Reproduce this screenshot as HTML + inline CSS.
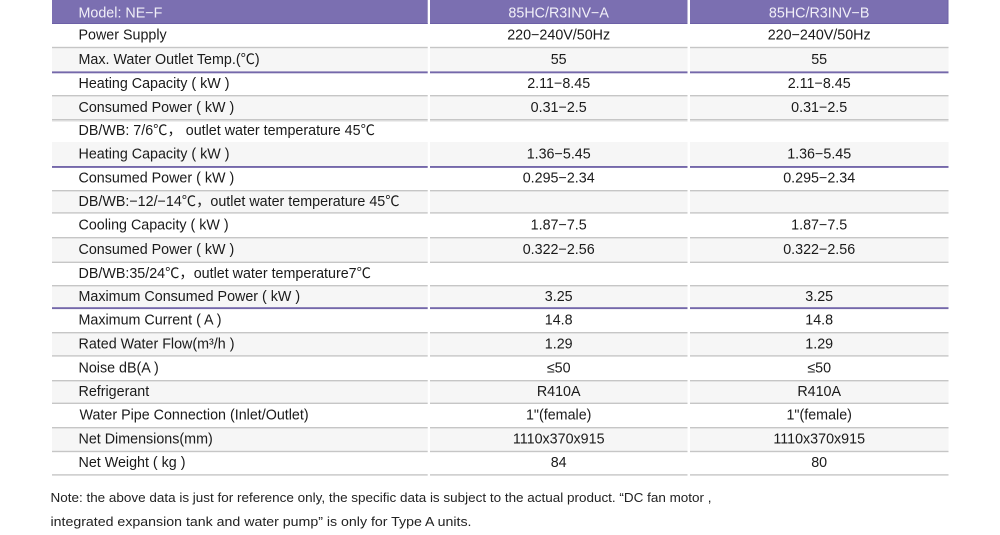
<!DOCTYPE html>
<html>
<head>
<meta charset="utf-8">
<style>
  html, body { margin: 0; padding: 0; background: #ffffff; }
  body { width: 1000px; height: 535px; overflow: hidden; }
  svg { display: block; }
  text { font-family: "Liberation Sans", "Noto Sans CJK SC", sans-serif; }
</style>
</head>
<body>
<svg width="1000" height="535" viewBox="0 0 1000 535" xmlns="http://www.w3.org/2000/svg">
  <rect x="0" y="0" width="1000" height="535" fill="#ffffff"/>

  <!-- Header -->
  <g fill="#7b6fb1">
    <rect x="52" y="0" width="375.7" height="24"/>
    <rect x="430" y="0" width="257.5" height="24"/>
    <rect x="690" y="0" width="258.5" height="24"/>
  </g>
  <g fill="#6c60a6">
    <rect x="52" y="23" width="375.7" height="1"/>
    <rect x="430" y="23" width="257.5" height="1"/>
    <rect x="690" y="23" width="258.5" height="1"/>
    <rect x="947.5" y="0" width="1" height="24"/>
  </g>

  <!-- Gray row backgrounds -->
  <g fill="#f6f6f6">
    <rect x="52" y="47.3" width="375.7" height="24.7"/><rect x="430" y="47.3" width="257.5" height="24.7"/><rect x="690" y="47.3" width="258.5" height="24.7"/>
    <rect x="52" y="95.5" width="375.7" height="24.5"/><rect x="430" y="95.5" width="257.5" height="24.5"/><rect x="690" y="95.5" width="258.5" height="24.5"/>
    <rect x="52" y="142" width="375.7" height="24.7"/><rect x="430" y="142" width="257.5" height="24.7"/><rect x="690" y="142" width="258.5" height="24.7"/>
    <rect x="52" y="190.5" width="375.7" height="22.3"/><rect x="430" y="190.5" width="257.5" height="22.3"/><rect x="690" y="190.5" width="258.5" height="22.3"/>
    <rect x="52" y="237.5" width="375.7" height="24.5"/><rect x="430" y="237.5" width="257.5" height="24.5"/><rect x="690" y="237.5" width="258.5" height="24.5"/>
    <rect x="52" y="285.5" width="375.7" height="22.2"/><rect x="430" y="285.5" width="257.5" height="22.2"/><rect x="690" y="285.5" width="258.5" height="22.2"/>
    <rect x="52" y="332.5" width="375.7" height="23.2"/><rect x="430" y="332.5" width="257.5" height="23.2"/><rect x="690" y="332.5" width="258.5" height="23.2"/>
    <rect x="52" y="380.5" width="375.7" height="22.5"/><rect x="430" y="380.5" width="257.5" height="22.5"/><rect x="690" y="380.5" width="258.5" height="22.5"/>
    <rect x="52" y="427.5" width="375.7" height="23.8"/><rect x="430" y="427.5" width="257.5" height="23.8"/><rect x="690" y="427.5" width="258.5" height="23.8"/>
  </g>

  <!-- Gray separator lines -->
  <g fill="#c6c6c6">
    <rect x="52" y="46.8" width="375.7" height="1.4"/><rect x="430" y="46.8" width="257.5" height="1.4"/><rect x="690" y="46.8" width="258.5" height="1.4"/>
    <rect x="52" y="95" width="375.7" height="1.4"/><rect x="430" y="95" width="257.5" height="1.4"/><rect x="690" y="95" width="258.5" height="1.4"/>
    <rect x="52" y="119" width="375.7" height="1.4"/><rect x="430" y="119" width="257.5" height="1.4"/><rect x="690" y="119" width="258.5" height="1.4"/>
    <rect x="52" y="190" width="375.7" height="1.4"/><rect x="430" y="190" width="257.5" height="1.4"/><rect x="690" y="190" width="258.5" height="1.4"/>
    <rect x="52" y="212.2" width="375.7" height="1.4"/><rect x="430" y="212.2" width="257.5" height="1.4"/><rect x="690" y="212.2" width="258.5" height="1.4"/>
    <rect x="52" y="237" width="375.7" height="1.4"/><rect x="430" y="237" width="257.5" height="1.4"/><rect x="690" y="237" width="258.5" height="1.4"/>
    <rect x="52" y="261.6" width="375.7" height="1.4"/><rect x="430" y="261.6" width="257.5" height="1.4"/><rect x="690" y="261.6" width="258.5" height="1.4"/>
    <rect x="52" y="285" width="375.7" height="1.4"/><rect x="430" y="285" width="257.5" height="1.4"/><rect x="690" y="285" width="258.5" height="1.4"/>
    <rect x="52" y="332" width="375.7" height="1.4"/><rect x="430" y="332" width="257.5" height="1.4"/><rect x="690" y="332" width="258.5" height="1.4"/>
    <rect x="52" y="355.2" width="375.7" height="1.4"/><rect x="430" y="355.2" width="257.5" height="1.4"/><rect x="690" y="355.2" width="258.5" height="1.4"/>
    <rect x="52" y="380" width="375.7" height="1.4"/><rect x="430" y="380" width="257.5" height="1.4"/><rect x="690" y="380" width="258.5" height="1.4"/>
    <rect x="52" y="402.6" width="375.7" height="1.4"/><rect x="430" y="402.6" width="257.5" height="1.4"/><rect x="690" y="402.6" width="258.5" height="1.4"/>
    <rect x="52" y="427" width="375.7" height="1.4"/><rect x="430" y="427" width="257.5" height="1.4"/><rect x="690" y="427" width="258.5" height="1.4"/>
    <rect x="52" y="450.8" width="375.7" height="1.4"/><rect x="430" y="450.8" width="257.5" height="1.4"/><rect x="690" y="450.8" width="258.5" height="1.4"/>
    <rect x="52" y="474.2" width="375.7" height="1.4"/><rect x="430" y="474.2" width="257.5" height="1.4"/><rect x="690" y="474.2" width="258.5" height="1.4"/>
  </g>
  <g fill="#e2e2e2">
    <rect x="52" y="120.6" width="375.7" height="1"/><rect x="430" y="120.6" width="257.5" height="1"/><rect x="690" y="120.6" width="258.5" height="1"/>
  </g>

  <!-- Purple separator lines -->
  <g fill="#7468aa">
    <rect x="52" y="71.4" width="375.7" height="1.9"/><rect x="430" y="71.4" width="257.5" height="1.9"/><rect x="690" y="71.4" width="258.5" height="1.9"/>
    <rect x="52" y="166" width="375.7" height="1.9"/><rect x="430" y="166" width="257.5" height="1.9"/><rect x="690" y="166" width="258.5" height="1.9"/>
    <rect x="52" y="307.2" width="375.7" height="1.9"/><rect x="430" y="307.2" width="257.5" height="1.9"/><rect x="690" y="307.2" width="258.5" height="1.9"/>
  </g>

  <!-- Header text -->
  <g font-size="14.3" fill="#f1eff8">
    <text x="78.5" y="17.4">Model: NE−F</text>
    <text x="558.7" y="17.4" text-anchor="middle">85HC/R3INV−A</text>
    <text x="819.2" y="17.4" text-anchor="middle">85HC/R3INV−B</text>
  </g>

  <!-- Labels -->
  <g font-size="14.3" fill="#1a1a1a">
    <text x="78.5" y="39.6">Power Supply</text>
    <text x="78.5" y="63.8">Max. Water Outlet Temp.(℃)</text>
    <text x="78.5" y="87.9">Heating Capacity ( kW )</text>
    <text x="78.5" y="111.9">Consumed Power ( kW )</text>
    <text x="78.5" y="135.2">DB/WB: 7/6℃，  outlet water temperature 45℃</text>
    <text x="78.5" y="158.5">Heating Capacity ( kW )</text>
    <text x="78.5" y="182.7">Consumed Power ( kW )</text>
    <text x="78.5" y="205.8">DB/WB:−12/−14℃，outlet water temperature 45℃</text>
    <text x="78.5" y="229.3">Cooling Capacity ( kW )</text>
    <text x="78.5" y="253.9">Consumed Power ( kW )</text>
    <text x="78.5" y="277.9">DB/WB:35/24℃，outlet water temperature7℃</text>
    <text x="78.5" y="300.8">Maximum Consumed Power ( kW )</text>
    <text x="78.5" y="324.3">Maximum Current ( A )</text>
    <text x="78.5" y="348.3">Rated Water Flow(m³/h )</text>
    <text x="78.5" y="372.3">Noise dB(A )</text>
    <text x="78.5" y="395.9">Refrigerant</text>
    <text x="79.5" y="419.4">Water Pipe Connection (Inlet/Outlet)</text>
    <text x="78.5" y="443.6">Net Dimensions(mm)</text>
    <text x="78.5" y="467.2">Net Weight  ( kg )</text>
  </g>

  <!-- Column A values -->
  <g font-size="14.3" fill="#1a1a1a" text-anchor="middle">
    <text x="558.7" y="39.6">220−240V/50Hz</text>
    <text x="558.7" y="63.8">55</text>
    <text x="558.7" y="87.9">2.11−8.45</text>
    <text x="558.7" y="111.9">0.31−2.5</text>
    <text x="558.7" y="158.5">1.36−5.45</text>
    <text x="558.7" y="182.7">0.295−2.34</text>
    <text x="558.7" y="229.3">1.87−7.5</text>
    <text x="558.7" y="253.9">0.322−2.56</text>
    <text x="558.7" y="300.8">3.25</text>
    <text x="558.7" y="324.3">14.8</text>
    <text x="558.7" y="348.3">1.29</text>
    <text x="558.7" y="372.3">≤50</text>
    <text x="558.7" y="395.9">R410A</text>
    <text x="558.7" y="419.4">1"(female)</text>
    <text x="558.7" y="443.6">1110x370x915</text>
    <text x="558.7" y="467.2">84</text>
  </g>

  <!-- Column B values -->
  <g font-size="14.3" fill="#1a1a1a" text-anchor="middle">
    <text x="819.2" y="39.6">220−240V/50Hz</text>
    <text x="819.2" y="63.8">55</text>
    <text x="819.2" y="87.9">2.11−8.45</text>
    <text x="819.2" y="111.9">0.31−2.5</text>
    <text x="819.2" y="158.5">1.36−5.45</text>
    <text x="819.2" y="182.7">0.295−2.34</text>
    <text x="819.2" y="229.3">1.87−7.5</text>
    <text x="819.2" y="253.9">0.322−2.56</text>
    <text x="819.2" y="300.8">3.25</text>
    <text x="819.2" y="324.3">14.8</text>
    <text x="819.2" y="348.3">1.29</text>
    <text x="819.2" y="372.3">≤50</text>
    <text x="819.2" y="395.9">R410A</text>
    <text x="819.2" y="419.4">1"(female)</text>
    <text x="819.2" y="443.6">1110x370x915</text>
    <text x="819.2" y="467.2">80</text>
  </g>

  <!-- Note -->
  <g font-size="13" fill="#222222">
    <text x="50.5" y="502" textLength="661" lengthAdjust="spacingAndGlyphs">Note: the above data is just for reference only, the specific data is subject to the actual product.  “DC fan motor ,</text>
    <text x="50.5" y="526" textLength="421" lengthAdjust="spacingAndGlyphs">integrated expansion tank and water pump”   is only for Type A units.</text>
  </g>
</svg>
</body>
</html>
